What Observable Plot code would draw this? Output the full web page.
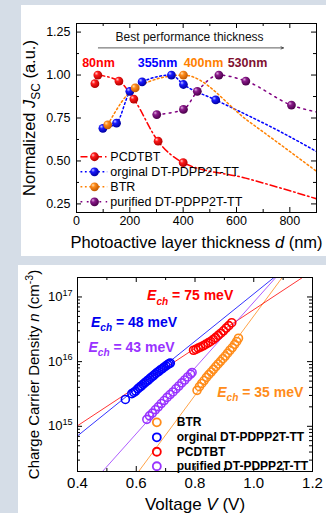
<!DOCTYPE html>
<html><head><meta charset="utf-8">
<script src="https://cdn.jsdelivr.net/npm/d3@7"></script>
<script src="https://cdn.jsdelivr.net/npm/@observablehq/plot@0.6"></script>
<style>
html,body{margin:0;padding:0;}
body{width:326px;height:513px;background:#d5dde7;position:relative;overflow:hidden;font-family:"Liberation Sans",Arial,sans-serif;}
.panel{position:absolute;background:#fff;overflow:hidden;}
#top{left:21px;top:5px;width:305px;height:251px;}
#bottom{left:18px;top:265px;width:308px;height:248px;}
</style></head><body>
<svg width="0" height="0" style="position:absolute">
<defs>
<radialGradient id="ballRed" cx="0.4" cy="0.38" r="0.62" fx="0.32" fy="0.3">
<stop offset="0" stop-color="#ffd0d0"/><stop offset="0.35" stop-color="#ff1a1a"/><stop offset="1" stop-color="#b00000"/>
</radialGradient>
<radialGradient id="ballBlue" cx="0.4" cy="0.38" r="0.62" fx="0.32" fy="0.3">
<stop offset="0" stop-color="#c8c8ff"/><stop offset="0.35" stop-color="#1a1aff"/><stop offset="1" stop-color="#0000a0"/>
</radialGradient>
<radialGradient id="ballOrange" cx="0.4" cy="0.38" r="0.62" fx="0.32" fy="0.3">
<stop offset="0" stop-color="#ffe2b8"/><stop offset="0.35" stop-color="#ff8c1a"/><stop offset="1" stop-color="#c05800"/>
</radialGradient>
<radialGradient id="ballPurple" cx="0.4" cy="0.38" r="0.62" fx="0.32" fy="0.3">
<stop offset="0" stop-color="#e0b0e0"/><stop offset="0.35" stop-color="#8a1a8a"/><stop offset="1" stop-color="#4a004a"/>
</radialGradient>
</defs></svg>
<div id="top" class="panel"></div>
<div id="bottom" class="panel"></div>
<script>
// ================= TOP CHART DATA =================
const seriesNames = ["PCDTBT", "orginal DT-PDPP2T-TT", "BTR", "purified DT-PDPP2T-TT"];
const pcdtbtThick = [69, 80, 159, 215, 306, 400];
const pcdtbtJsc   = [0.95, 1.00, 0.965, 0.86, 0.615, 0.49];
const orginalThick = [99, 150, 200, 246, 356, 401, 522];
const orginalJsc   = [0.69, 0.72, 0.905, 0.96, 1.00, 0.945, 0.855];
const btrThick = [117, 220, 401];
const btrJsc   = [0.71, 0.925, 1.00];
const purifiedThick = [301, 401, 453, 534, 635, 806];
const purifiedJsc   = [0.77, 0.80, 0.905, 1.00, 0.965, 0.825];
// guide curves as drawn in the figure
const pcdtbtCurveThick = [80, 159, 215, 306, 400, 634, 900];
const pcdtbtCurveJsc   = [1.00, 0.965, 0.86, 0.615, 0.49, 0.40, 0.28];
const orginalCurveThick = [99, 150, 200, 246, 356, 401, 522, 777, 900];
const orginalCurveJsc   = [0.69, 0.72, 0.905, 0.96, 1.00, 0.945, 0.855, 0.66, 0.555];
const btrCurveThick = [117, 220, 401, 646, 900];
const btrCurveJsc   = [0.71, 0.925, 1.00, 0.73, 0.44];
const purifiedCurveThick = [301, 401, 453, 534, 635, 806, 900];
const purifiedCurveJsc   = [0.77, 0.80, 0.905, 1.00, 0.965, 0.825, 0.785];
const peakLabels = ["80nm", "355nm", "400nm", "530nm"];
const topXTicks = [0, 200, 400, 600, 800];
const topXMinor = [100, 300, 500, 700];
const topYTicks = [0.25, 0.50, 0.75, 1.00, 1.25];
const topYMinor = [0.375, 0.625, 0.875, 1.125];

// ================= BOTTOM CHART DATA =================
const legendOrderBottom = ["BTR", "orginal DT-PDPP2T-TT", "PCDTBT", "purified DT-PDPP2T-TT"];
const echLabels = ["Ech = 75 meV", "Ech = 48 meV", "Ech = 43 meV", "Ech = 35 meV"];
const btrV = [0.807, 0.815, 0.823, 0.831, 0.839, 0.847, 0.855, 0.863, 0.871, 0.879, 0.887, 0.895, 0.903, 0.911, 0.919, 0.927, 0.935, 0.942, 0.948];
const btrN = [3.6e15, 4.1e15, 4.6e15, 5.1e15, 5.7e15, 6.3e15, 6.9e15, 7.6e15, 8.4e15, 9.2e15, 1.01e16, 1.11e16, 1.22e16, 1.35e16, 1.5e16, 1.65e16, 1.85e16, 2.05e16, 2.3e16];
const orgV = [0.563, 0.585, 0.592, 0.598, 0.605, 0.611, 0.617, 0.623, 0.629, 0.635, 0.641, 0.647, 0.653, 0.659, 0.665, 0.671, 0.677, 0.683, 0.689, 0.695, 0.701, 0.707, 0.712, 0.716];
const orgN = [2.6e15, 3.2e15, 3.35e15, 3.5e15, 3.8e15, 4.0e15, 4.2e15, 4.45e15, 4.7e15, 4.95e15, 5.2e15, 5.5e15, 5.8e15, 6.1e15, 6.45e15, 6.8e15, 7.1e15, 7.5e15, 7.8e15, 8.2e15, 8.6e15, 9.0e15, 9.3e15, 9.5e15];
const pcdV = [0.795, 0.803, 0.811, 0.819, 0.828, 0.836, 0.845, 0.853, 0.862, 0.870, 0.879, 0.888, 0.897, 0.906, 0.915, 0.925];
const pcdN = [1.5e16, 1.55e16, 1.62e16, 1.68e16, 1.76e16, 1.85e16, 1.95e16, 2.05e16, 2.2e16, 2.35e16, 2.55e16, 2.75e16, 3.0e16, 3.3e16, 3.6e16, 4.0e16];
const purV = [0.636, 0.645, 0.655, 0.665, 0.675, 0.685, 0.695, 0.705, 0.715, 0.725, 0.735, 0.745, 0.755, 0.765, 0.775, 0.785, 0.790];
const purN = [1.28e15, 1.45e15, 1.6e15, 1.8e15, 2.0e15, 2.25e15, 2.5e15, 2.8e15, 3.1e15, 3.4e15, 3.8e15, 4.2e15, 4.7e15, 5.2e15, 5.8e15, 6.4e15, 6.8e15];
// straight fit lines as drawn (end points)
const btrFitV = [0.608, 1.097], btrFitN = [2e14, 2e17];
const orgFitV = [0.40, 1.069], orgFitN = [7.1e14, 2e17];
const pcdFitV = [0.40, 1.166], pcdFitN = [1.02e15, 2e17];
const purFitV = [0.485, 1.075], purFitN = [2e14, 2e17];
const botXTicks = [0.4, 0.6, 0.8, 1.0, 1.2];
const botXMinor = [0.5, 0.7, 0.9, 1.1];
const botYTicks = [1e15, 1e16, 1e17];

// ================= helpers =================
const rows = (xs, ys) => xs.map((x, i) => ({x, y: ys[i]}));
const FONT = '"Liberation Sans", Arial, Helvetica, sans-serif';

function setRich(el, parts, base) {
  const t = d3.select(el);
  t.text(null);
  let shift = 0;
  for (const p of parts) {
    const ts = t.append("tspan").text(p.t);
    let target = 0;
    if (p.sub) { target = base * 0.3; ts.attr("font-size", base * 0.72); }
    if (p.sup) { target = -base * 0.42; ts.attr("font-size", base * 0.7); }
    if (p.i) ts.attr("font-style", "italic");
    if (target !== shift) { ts.attr("dy", target - shift); shift = target; }
  }
}
function richify(svg, aria, fn, base) {
  d3.select(svg).selectAll(`g[aria-label="${aria}"] text, text[aria-label="${aria}"]`).each(function() {
    setRich(this, fn(this.textContent), base);
  });
}
function edgeTicks(xMaj, xMin, yMaj, yMin, pw, ph) {
  const L = 5, l = 3, o = {stroke: "#000", strokeWidth: 1};
  const m = [];
  m.push(Plot.tickX(xMaj, {...o, x: d => d, insetTop: ph - L}));
  m.push(Plot.tickX(xMaj, {...o, x: d => d, insetBottom: ph - L}));
  m.push(Plot.tickX(xMin, {...o, x: d => d, insetTop: ph - l}));
  m.push(Plot.tickX(xMin, {...o, x: d => d, insetBottom: ph - l}));
  m.push(Plot.tickY(yMaj, {...o, y: d => d, insetRight: pw - L}));
  m.push(Plot.tickY(yMaj, {...o, y: d => d, insetLeft: pw - L}));
  m.push(Plot.tickY(yMin, {...o, y: d => d, insetRight: pw - l}));
  m.push(Plot.tickY(yMin, {...o, y: d => d, insetLeft: pw - l}));
  return m;
}

// ================= TOP CHART =================
{
  const W = 305, H = 251, mL = 55, mR = 10, mT = 18, mB = 44;
  const pw = W - mL - mR, ph = H - mT - mB;
  const colors = ["#ff0000", "#0000ff", "#ff8000", "#800080"];
  const balls = ["url(#ballRed)", "url(#ballBlue)", "url(#ballOrange)", "url(#ballPurple)"];
  const dashes = ["7,3,1.5,3", "1.8,2.6", "1.8,2.6", "1.8,4.5"];
  const pts = [rows(pcdtbtThick, pcdtbtJsc), rows(orginalThick, orginalJsc), rows(btrThick, btrJsc), rows(purifiedThick, purifiedJsc)];
  const curves = [rows(pcdtbtCurveThick, pcdtbtCurveJsc), rows(orginalCurveThick, orginalCurveJsc), rows(btrCurveThick, btrCurveJsc), rows(purifiedCurveThick, purifiedCurveJsc)];
  const peakColors = ["#ff0000", "#0000ff", "#ff8000", "#801030"];
  const peakPos = [{x: 82.5, y: 1.071}, {x: 303.7, y: 1.071}, {x: 476, y: 1.071}, {x: 641, y: 1.071}];
  const legY0 = 0.5245, legStep = 0.0875;

  const marks = [];
  marks.push(...edgeTicks(topXTicks, topXMinor, topYTicks, topYMinor, pw, ph));
  curves.forEach((c, i) => marks.push(Plot.line(c, {x: "x", y: "y", stroke: colors[i], strokeWidth: 1.5, strokeDasharray: dashes[i], curve: "monotone-x", clip: true})));
  pts.forEach((p, i) => marks.push(Plot.dot(p, {x: "x", y: "y", r: 4.4, fill: balls[i], stroke: "none"})));
  marks.push(Plot.text(peakLabels.map((t, i) => ({t, ...peakPos[i], c: peakColors[i]})), {x: "x", y: "y", text: "t", fill: d => d.c, fontWeight: "bold", fontSize: 12.5}));
  marks.push(Plot.text(["Best performance thickness"], {x: () => 424, y: () => 1.222, text: d => d, fontSize: 12, fill: "#111"}));
  marks.push(Plot.arrow([0], {x1: () => 82, x2: () => 776, y1: () => 1.158, y2: () => 1.158, stroke: "#333", strokeWidth: 0.8, headLength: 5, headAngle: 50}));
  seriesNames.forEach((name, i) => {
    const y = legY0 - i * legStep;
    marks.push(Plot.link([0], {x1: () => 15, x2: () => 115, y1: () => y, y2: () => y, stroke: colors[i], strokeWidth: 1.5, strokeDasharray: dashes[i]}));
    marks.push(Plot.dot([0], {x: () => 67.5, y: () => y, r: 4.4, fill: balls[i], stroke: "none"}));
    marks.push(Plot.text([name], {x: () => 127, y: () => y, text: d => d, textAnchor: "start", fontSize: 12.5, fill: "#000"}));
  });
  marks.push(Plot.frame({stroke: "#000", strokeWidth: 1}));
  marks.push(Plot.axisX({ticks: topXTicks, tickSize: 0, tickPadding: 4, fontSize: 12.5, tickFormat: d3.format("d"), label: null}));
  marks.push(Plot.axisY({ticks: topYTicks, tickSize: 0, tickPadding: 6, fontSize: 12.5, tickFormat: d3.format(".2f"), label: null}));
  marks.push(Plot.text(["Normalized JSC (a.u.)"], {frameAnchor: "left", dx: -47, rotate: -90, textAnchor: "middle", lineAnchor: "middle", text: d => d, fontSize: 16.5, ariaLabel: () => "ytitle"}));
  marks.push(Plot.text(["Photoactive layer thickness d (nm)"], {frameAnchor: "bottom", dy: 30, textAnchor: "middle", lineAnchor: "middle", text: d => d, fontSize: 16.5, ariaLabel: () => "xtitle"}));

  const svg = Plot.plot({
    width: W, height: H, marginLeft: mL, marginRight: mR, marginTop: mT, marginBottom: mB,
    x: {domain: [0, 900]}, y: {domain: [0.2, 1.3]},
    style: {fontFamily: FONT, fontSize: "12px", color: "#000", background: "transparent", overflow: "visible"},
    marks
  });
  richify(svg, "ytitle", () => [{t: "Normalized "}, {t: "J", i: true}, {t: "SC", sub: true}, {t: " (a.u.)"}], 16.5);
  richify(svg, "xtitle", () => [{t: "Photoactive layer thickness "}, {t: "d", i: true}, {t: " (nm)"}], 16.5);
  document.getElementById("top").append(svg);
}

// ================= BOTTOM CHART =================
{
  const W = 308, H = 248, mL = 59, mR = 14, mT = 12, mB = 42;
  const pw = W - mL - mR, ph = H - mT - mB;
  const series = [
    {name: legendOrderBottom[0], color: "#ff8c1a", p: rows(btrV, btrN), f: rows(btrFitV, btrFitN)},
    {name: legendOrderBottom[1], color: "#0000ff", p: rows(orgV, orgN), f: rows(orgFitV, orgFitN)},
    {name: legendOrderBottom[2], color: "#ff0000", p: rows(pcdV, pcdN), f: rows(pcdFitV, pcdFitN)},
    {name: legendOrderBottom[3], color: "#9933ff", p: rows(purV, purN), f: rows(purFitV, purFitN)}
  ];
  const yMinor = [];
  for (const e of [14, 15, 16]) for (let m = 2; m <= 9; m++) { const v = m * Math.pow(10, e); if (v > 2.05e14 && v < 1.95e17) yMinor.push(v); }
  const echPos = [{x: 0.637, y: 1.04e17, c: "#ff0000"}, {x: 0.446, y: 4.03e16, c: "#0000ee"}, {x: 0.4375, y: 1.66e16, c: "#9933ff"}, {x: 0.8756, y: 3.33e15, c: "#ff8c1a"}];
  const legN = [1.15e15, 6.76e14, 4.04e14, 2.41e14];

  const marks = [];
  marks.push(...edgeTicks(botXTicks, botXMinor, botYTicks, yMinor, pw, ph));
  series.forEach(s => marks.push(Plot.line(s.f, {x: "x", y: "y", stroke: s.color, strokeWidth: 0.8, clip: true})));
  series.forEach(s => marks.push(Plot.dot(s.p, {x: "x", y: "y", r: 4, stroke: s.color, strokeWidth: 1.6, fill: "none"})));
  marks.push(Plot.text(echLabels.map((t, i) => ({t, ...echPos[i]})), {x: "x", y: "y", text: "t", fill: d => d.c, textAnchor: "start", fontWeight: "bold", fontSize: 14, ariaLabel: () => "ech"}));
  series.forEach((s, i) => {
    marks.push(Plot.dot([0], {x: () => 0.670, y: () => legN[i], r: 4, stroke: s.color, strokeWidth: 1.8, fill: "none"}));
    marks.push(Plot.text([s.name], {x: () => 0.738, y: () => legN[i], text: d => d, textAnchor: "start", fontWeight: "bold", fontSize: 12, fill: "#000"}));
  });
  marks.push(Plot.frame({stroke: "#000", strokeWidth: 1}));
  marks.push(Plot.axisX({ticks: botXTicks, tickSize: 0, tickPadding: 5.5, fontSize: 15, tickFormat: d3.format(".1f"), label: null}));
  marks.push(Plot.axisY({ticks: botYTicks, tickSize: 0, tickPadding: 5, fontSize: 13, tickFormat: d => "10^" + Math.round(Math.log10(d)), label: null}));
  marks.push(Plot.text(["Charge Carrier Density n (cm-3)"], {frameAnchor: "left", dx: -43, rotate: -90, textAnchor: "middle", lineAnchor: "middle", text: d => d, fontSize: 15, ariaLabel: () => "ytitle"}));
  marks.push(Plot.text(["Voltage V (V)"], {frameAnchor: "bottom", dy: 33, textAnchor: "middle", lineAnchor: "middle", text: d => d, fontSize: 17, ariaLabel: () => "xtitle"}));

  const svg = Plot.plot({
    width: W, height: H, marginLeft: mL, marginRight: mR, marginTop: mT, marginBottom: mB,
    x: {domain: [0.4, 1.2]}, y: {type: "log", domain: [2e14, 2e17]},
    style: {fontFamily: FONT, fontSize: "12px", color: "#000", background: "transparent", overflow: "visible"},
    marks
  });
  richify(svg, "y-axis tick label", s => { const [a, b] = s.split("^"); return [{t: a}, {t: b, sup: true}]; }, 13);
  richify(svg, "ech", s => [{t: "E", i: true}, {t: "ch", i: true, sub: true}, {t: s.slice(3)}], 14);
  richify(svg, "ytitle", () => [{t: "Charge Carrier Density "}, {t: "n", i: true}, {t: " (cm"}, {t: "-3", sup: true}, {t: ")"}], 15);
  richify(svg, "xtitle", () => [{t: "Voltage "}, {t: "V", i: true}, {t: " (V)"}], 17);
  document.getElementById("bottom").append(svg);
}
</script>
</body></html>
